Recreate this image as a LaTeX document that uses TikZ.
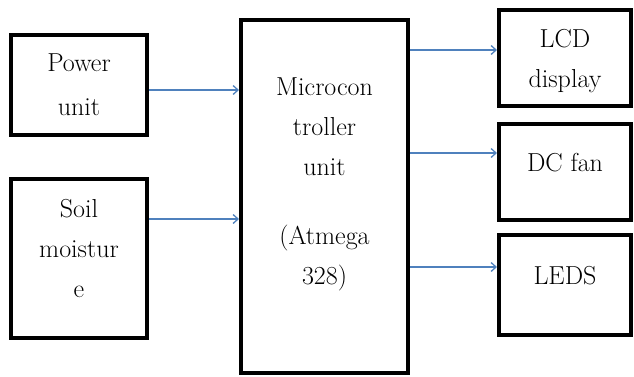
\documentclass[tikz,border=0pt]{standalone}
\usetikzlibrary{arrows.meta,positioning}
\definecolor{linkblue}{HTML}{4F81BD}
\tikzset{
  flow/.style={-{Straight Barb[length=5pt,width=9pt]},line width=1.3pt,draw=linkblue},
  block/.style={draw=black,line width=4pt,align=center,inner sep=0pt,
                font=\rmfamily\fontsize{26}{40}\selectfont},
  lift/.style={text depth=#1}
}

\begin{document}
\begin{tikzpicture}[x=1pt,y=-1pt]
  \useasboundingbox (0,0) rectangle (634,376);
  % inputs
  \node[block,minimum width=136pt,minimum height=100pt,font=\fontsize{26}{44}\selectfont] (power) at (79,85) {Power\\unit};
  \node[block,minimum width=136pt,minimum height=159pt,lift=20pt,below=40pt of power] (soil) {Soil\\moistur\\e};
  % controller
  \node[block,minimum width=167pt,minimum height=353pt,lift=30pt] (mcu) at (324.5,196.5)
    {Microcon\\troller\\unit\\[29pt](Atmega\\328)};
  % outputs
  \node[block,minimum width=132pt,minimum height=96pt,lift=-3pt] (lcd) at (565,58) {LCD\\display};
  \node[block,minimum width=132pt,minimum height=96pt,lift=20pt,below=14pt of lcd] (fan) {DC fan};
  \node[block,minimum width=132pt,minimum height=100pt,lift=20pt,below=11pt of fan] (leds) {LEDS};
  \draw[flow] ([yshift=-5pt]power.east) -- ([yshift=-5pt]power.east -| mcu.west);
  \draw[flow] ([yshift=39.5pt]soil.east) -- ([yshift=39.5pt]soil.east -| mcu.west);
  \draw[flow] ([yshift=8pt]lcd.west -| mcu.east) -- ([yshift=8pt]lcd.west);
  \draw[flow] ([yshift=19pt]fan.west -| mcu.east) -- ([yshift=19pt]fan.west);
  \draw[flow] ([yshift=18pt]leds.west -| mcu.east) -- ([yshift=18pt]leds.west);
\end{tikzpicture}
\end{document}
